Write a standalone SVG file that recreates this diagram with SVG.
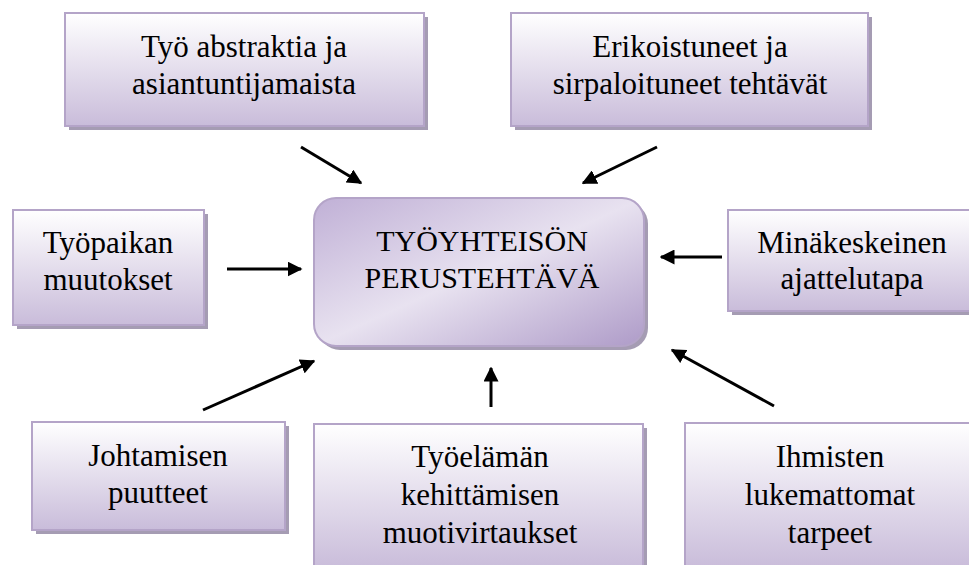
<svg xmlns="http://www.w3.org/2000/svg" width="969" height="565" viewBox="0 0 969 565">
<defs>
<linearGradient id="boxGrad" x1="0" y1="0" x2="0" y2="1">
<stop offset="0" stop-color="#ffffff"/>
<stop offset="1" stop-color="#c9bcda"/>
</linearGradient>
<linearGradient id="centerGrad" x1="0" y1="0" x2="1" y2="1">
<stop offset="0" stop-color="#c0b0d6"/>
<stop offset="0.5" stop-color="#e8e2f0"/>
<stop offset="1" stop-color="#ae9bc8"/>
</linearGradient>
<marker id="arrow" viewBox="0 0 10 10" refX="9" refY="5" markerWidth="5" markerHeight="5" orient="auto" markerUnits="strokeWidth">
<path d="M0,0 L10,5 L0,10 z" fill="#000"/>
</marker>
<style>
.box{fill:url(#boxGrad);stroke:#b4a4c8;stroke-width:2}
.shadow{fill:#a59cb3}
.lbl{font-family:"Liberation Serif","DejaVu Serif",serif;font-size:31px;fill:#000;text-anchor:middle}
.clbl{font-family:"Liberation Serif","DejaVu Serif",serif;font-size:30px;fill:#000;text-anchor:middle}
.conn{stroke:#000;stroke-width:3;fill:none;marker-end:url(#arrow)}
</style>
</defs>
<rect width="969" height="565" fill="#fff"/>

<g id="node-center">
<rect x="318" y="202" width="330" height="148" rx="22" class="shadow"/>
<rect x="314" y="198" width="330" height="148" rx="22" fill="url(#centerGrad)" stroke="#b4a4c8" stroke-width="2"/>
<text class="clbl" x="482" y="251">TYÖYHTEISÖN</text>
<text class="clbl" x="482" y="288">PERUSTEHTÄVÄ</text>
</g>

<g id="node-top-left">
<rect x="69" y="17" width="359" height="113" class="shadow"/>
<rect x="65" y="13" width="359" height="113" class="box"/>
<text class="lbl" x="244" y="57">Työ abstraktia ja</text>
<text class="lbl" x="244" y="94">asiantuntijamaista</text>
</g>

<g id="node-top-right">
<rect x="515" y="17" width="357" height="113" class="shadow"/>
<rect x="511" y="13" width="357" height="113" class="box"/>
<text class="lbl" x="690" y="57">Erikoistuneet ja</text>
<text class="lbl" x="690" y="94">sirpaloituneet tehtävät</text>
</g>

<g id="node-left">
<rect x="17" y="214" width="191" height="115" class="shadow"/>
<rect x="13" y="210" width="191" height="115" class="box"/>
<text class="lbl" x="108" y="253">Työpaikan</text>
<text class="lbl" x="108" y="290">muutokset</text>
</g>

<g id="node-right">
<rect x="732" y="214" width="250" height="101" class="shadow"/>
<rect x="728" y="210" width="250" height="101" class="box"/>
<text class="lbl" x="852" y="253">Minäkeskeinen</text>
<text class="lbl" x="852" y="289">ajattelutapa</text>
</g>

<g id="node-bottom-left">
<rect x="36" y="426" width="253" height="108" class="shadow"/>
<rect x="32" y="422" width="253" height="108" class="box"/>
<text class="lbl" x="158" y="466">Johtamisen</text>
<text class="lbl" x="158" y="503">puutteet</text>
</g>

<g id="node-bottom-center">
<rect x="318" y="428" width="329" height="145" class="shadow"/>
<rect x="314" y="424" width="329" height="145" class="box"/>
<text class="lbl" x="480" y="467">Työelämän</text>
<text class="lbl" x="480" y="505">kehittämisen</text>
<text class="lbl" x="480" y="543">muotivirtaukset</text>
</g>

<g id="node-bottom-right">
<rect x="689" y="427" width="290" height="145" class="shadow"/>
<rect x="685" y="423" width="290" height="145" class="box"/>
<text class="lbl" x="830" y="467">Ihmisten</text>
<text class="lbl" x="830" y="505">lukemattomat</text>
<text class="lbl" x="830" y="543">tarpeet</text>
</g>

<g id="connectors">
<line x1="301" y1="147" x2="361" y2="183" class="conn"/>
<line x1="657" y1="147" x2="583" y2="183" class="conn"/>
<line x1="227" y1="269" x2="301" y2="269" class="conn"/>
<line x1="722" y1="257" x2="661" y2="257" class="conn"/>
<line x1="203" y1="410" x2="314" y2="361" class="conn"/>
<line x1="491" y1="407" x2="491" y2="368" class="conn"/>
<line x1="774" y1="406" x2="672" y2="350" class="conn"/>
</g>
</svg>
